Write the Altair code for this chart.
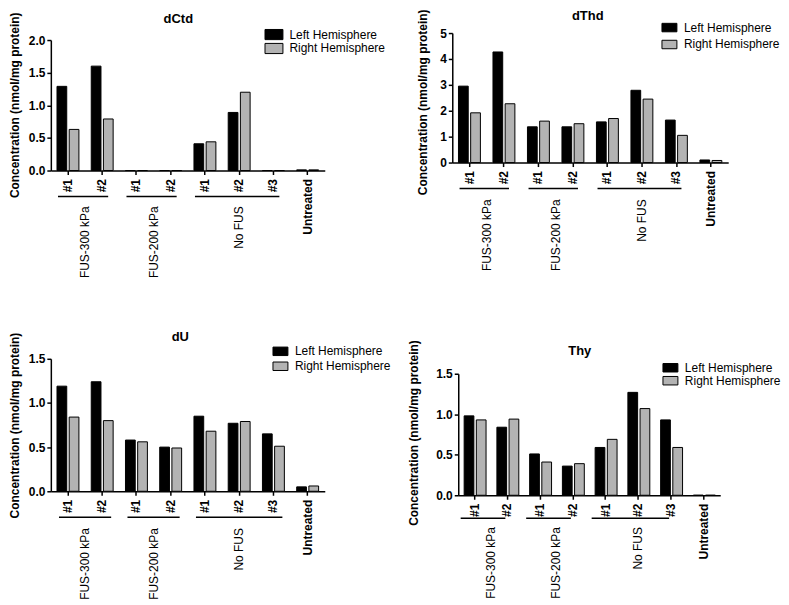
import altair as alt
import pandas as pd

FONT = "Liberation Sans"

# ---- data ----
categories = ["#1", "#2", "#1", "#2", "#1", "#2", "#3", "Untreated"]
groups = ["FUS-300 kPa", "FUS-300 kPa", "FUS-200 kPa", "FUS-200 kPa",
          "No FUS", "No FUS", "No FUS", ""]
series = ["Left Hemisphere", "Right Hemisphere"]

titles = ["dCtd", "dThd", "dU", "Thy"]
y_title = "Concentration (nmol/mg protein)"

dctd_left = [1.29, 1.60, 0.0, 0.0, 0.41, 0.89, 0.0, 0.01]
dctd_right = [0.63, 0.79, 0.0, 0.0, 0.44, 1.20, 0.0, 0.01]
dthd_left = [2.95, 4.27, 1.38, 1.38, 1.57, 2.79, 1.64, 0.10]
dthd_right = [1.92, 2.27, 1.60, 1.50, 1.70, 2.45, 1.05, 0.08]
du_left = [1.19, 1.24, 0.58, 0.50, 0.85, 0.77, 0.65, 0.05]
du_right = [0.84, 0.80, 0.56, 0.49, 0.68, 0.79, 0.51, 0.06]
thy_left = [0.98, 0.84, 0.51, 0.36, 0.59, 1.27, 0.93, 0.0]
thy_right = [0.93, 0.94, 0.41, 0.39, 0.69, 1.07, 0.59, 0.0]

y_max = [2.0, 5.0, 1.5, 1.5]
y_ticks = [[0, 0.5, 1.0, 1.5, 2.0], [0, 1, 2, 3, 4, 5], [0, 0.5, 1.0, 1.5], [0, 0.5, 1.0, 1.5]]
y_format = [".1f", "d", ".1f", ".1f"]

values = [(dctd_left, dctd_right), (dthd_left, dthd_right),
          (du_left, du_right), (thy_left, thy_right)]

keys = [f"{g}|{c}" if g else c for g, c in zip(groups, categories)]
group_names = [g for i, g in enumerate(groups) if g and g not in groups[:i]]

# ---- layout / style per panel ----
layout = [
    dict(w=275, h=138, yr=[138, 7], xr=None, yoff=0, tdy=-14.7, tdx=-9.5, tp=7, ty=72,
         lx=217.5, ly=-5, s=12, rp=-2, lo=9, ul=26, ul_a=-10, ul_b=6, gl=36),
    dict(w=277, h=130, yr=None, xr=None, yoff=0, tdy=-14.7, tdx=-2.5, tp=10, ty=69,
         lx=212, ly=-11.5, s=10, rp=3, lo=8.5, ul=26, ul_a=-10, ul_b=5, gl=37),
    dict(w=275, h=133, yr=None, xr=None, yoff=0, tdy=-11.7, tdx=-7.5, tp=7, ty=None,
         lx=224.5, ly=-13.5, s=10, rp=1, lo=8.5, ul=26, ul_a=-9, ul_b=9, gl=37),
    dict(w=269, h=137, yr=[137, 15], xr=[6, 269], yoff=-6, tdy=-18.7, tdx=-6.5, tp=15, ty=74,
         lx=213, ly=3, s=10, rp=-1, lo=8.5, ul=23, ul_a=-14, ul_b=-2, gl=32),
]

SYMBOL = "M-1.5,-0.85H1.5V0.85H-1.5Z"


def panel(i):
    L = layout[i]
    left, right = values[i]
    df = pd.DataFrame(
        [{"key": k, "series": series[0], "value": v} for k, v in zip(keys, left)]
        + [{"key": k, "series": series[1], "value": v} for k, v in zip(keys, right)]
    )
    xs = dict(domain=keys, paddingInner=0.36, paddingOuter=0.18)
    if L["xr"]:
        xs["range"] = L["xr"]
    ys = dict(domain=[0, y_max[i]], nice=False)
    if L["yr"]:
        ys["range"] = L["yr"]
    yaxis = dict(values=y_ticks[i], format=y_format[i], grid=False, title=y_title,
                 titleFont=FONT, titleFontSize=12, titleFontWeight="bold", titleColor="black",
                 titlePadding=L["tp"], labelFont=FONT, labelFontSize=12, labelFontWeight="bold",
                 labelColor="black", labelPadding=2, tickSize=4, tickWidth=1.5, tickColor="black",
                 domainColor="black", domainWidth=1.5)
    if L["ty"] is not None:
        yaxis["titleY"] = L["ty"]
    if L["yoff"]:
        yaxis["offset"] = L["yoff"]

    xaxis = alt.Axis(title=None, labelExpr="peek(split(datum.value, '|'))",
                     labelAngle=270, labelFont=FONT, labelFontSize=12,
                     labelFontWeight="bold", labelColor="black", labelPadding=4,
                     labelOverlap=False, tickSize=4, tickWidth=1.5,
                     tickColor="black", domainColor="black", domainWidth=1.5,
                     bandPosition=0.5)

    step = (L["xr"][1] - L["xr"][0] if L["xr"] else L["w"]) / len(keys)

    bars = alt.Chart(df).mark_bar(stroke="black", strokeWidth=1).encode(
        x=alt.X("key:N", scale=alt.Scale(**xs), axis=xaxis),
        xOffset=alt.XOffset("series:N", sort=series, scale=alt.Scale(paddingInner=0.2)),
        y=alt.Y("value:Q", scale=alt.Scale(**ys), axis=alt.Axis(**yaxis)),
        color=alt.Color("series:N", sort=series,
                        scale=alt.Scale(domain=series, range=["#000000", "#b3b3b3"]),
                        legend=alt.Legend(title=None, orient="none", legendX=L["lx"],
                                          legendY=L["ly"], symbolType=SYMBOL,
                                          symbolSize=L["s"] ** 2, symbolStrokeColor="black",
                                          symbolStrokeWidth=1, symbolOpacity=1,
                                          labelFont=FONT, labelFontSize=12, labelColor="black",
                                          labelOffset=L["lo"], rowPadding=L["rp"], padding=0)),
    )

    axis_y = L["h"]
    gdf = pd.DataFrame([
        {"label": g,
         "key": [k for k, gg in zip(keys, groups) if gg == g][0],
         "last": [k for k, gg in zip(keys, groups) if gg == g][-1]}
        for g in group_names
    ])
    rules = alt.Chart(gdf).mark_rule(color="black", strokeWidth=1.5,
                                     xOffset=L["ul_a"], x2Offset=L["ul_b"]).encode(
        x=alt.X("key:N", axis=xaxis),
        x2="last:N",
        y=alt.value(axis_y + L["ul"]),
    )

    layers = [bars, rules]
    for g in group_names:
        members = [k for k, gg in zip(keys, groups) if gg == g]
        n = len(members)
        if n % 2 == 0:
            anchor, shift = members[n // 2 - 1], step / 2
        else:
            anchor, shift = members[n // 2], 0
        tdf = pd.DataFrame([{"label": g, "key": anchor}])
        layers.append(
            alt.Chart(tdf).mark_text(angle=270, align="right", baseline="middle",
                                     font=FONT, fontSize=12, color="black",
                                     xOffset=shift).encode(
                x=alt.X("key:N", axis=xaxis),
                y=alt.value(axis_y + L["gl"]),
                text="label:N",
            )
        )

    return alt.layer(*layers).properties(
        width=L["w"], height=L["h"],
        title=alt.TitleParams(titles[i], font=FONT, fontSize=13, fontWeight="bold",
                              color="black", anchor="middle", frame="group",
                              offset=L["tdy"], dx=L["tdx"]),
    )


chart = alt.concat(
    panel(0), panel(1), panel(2), panel(3),
    columns=2, spacing={"row": 189, "column": 128}, bounds="flush",
).resolve_scale(color="independent").properties(
    padding={"top": -1, "left": 0, "right": 0, "bottom": 0}
).configure_view(strokeWidth=0)

chart.save("out.html", embed_options={"renderer": "svg", "actions": False})
